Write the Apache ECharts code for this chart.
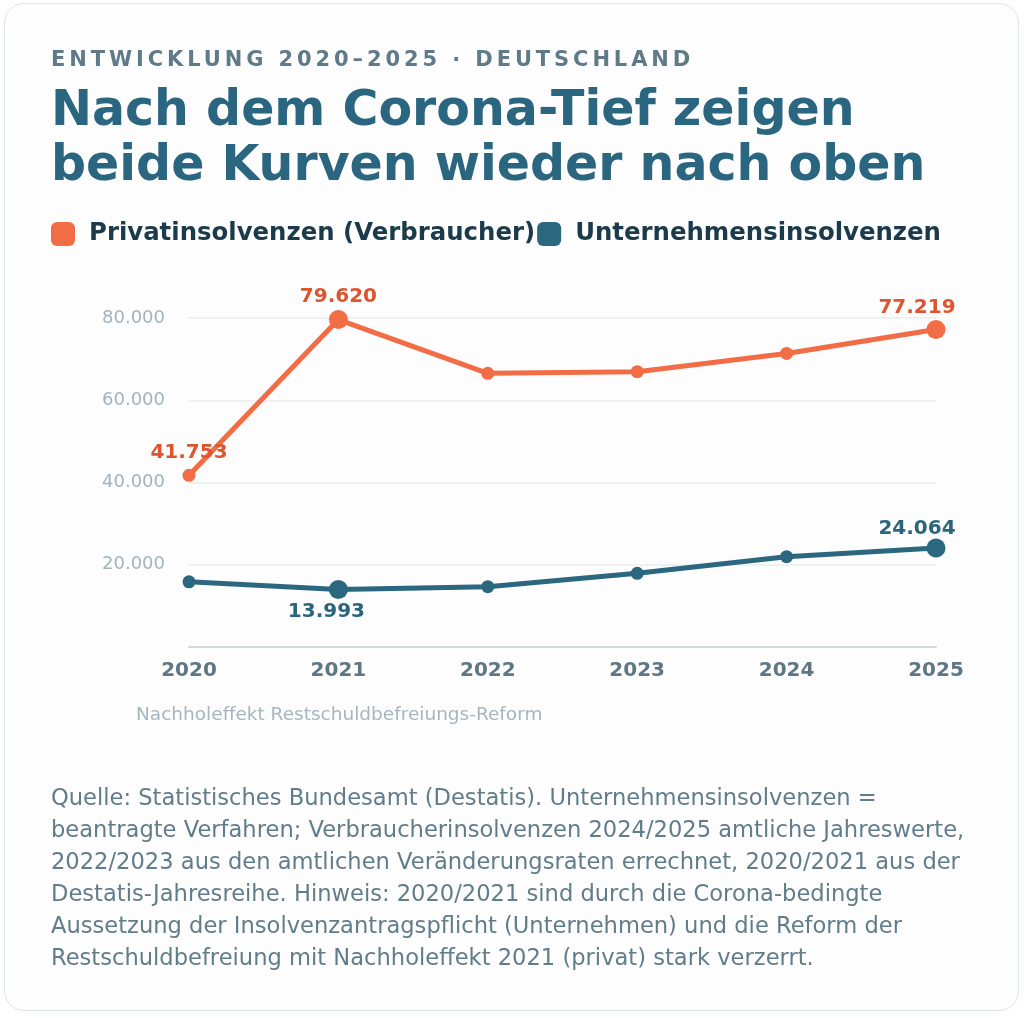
<!DOCTYPE html>
<html lang="de">
<head>
<meta charset="utf-8">
<title>Insolvenzen Deutschland 2020–2025</title>
<script src="https://cdn.jsdelivr.net/npm/echarts@6/dist/echarts.min.js"></script>
<style>
  html, body { margin: 0; padding: 0; background: #ffffff; }
  body { width: 1024px; height: 1018px; position: relative; overflow: hidden; font-family: "DejaVu Sans", sans-serif; }
  #card { position: absolute; left: 4px; top: 3px; width: 1013px; height: 1006px; border: 1.5px solid #dfe5e8; border-radius: 20px; background: #fdfdfd; }
  #chart { position: absolute; left: 0; top: 0; width: 1024px; height: 1018px; }
  #kicker { position: absolute; left: 51px; top: 49px; font: bold 21px/21px "DejaVu Sans", sans-serif; letter-spacing: 3.9px; color: #5f7a88; white-space: nowrap; z-index: 2; }
</style>
</head>
<body>
<div id="card"></div>
<div id="chart"></div>
<div id="kicker">ENTWICKLUNG 2020–2025 · DEUTSCHLAND</div>
<script>
// ---- Data ----
const years = ['2020', '2021', '2022', '2023', '2024', '2025'];
const privatName = 'Privatinsolvenzen (Verbraucher)';
const unternehmenName = 'Unternehmensinsolvenzen';
const privat = [41753, 79620, 66550, 66940, 71380, 77219];
const unternehmen = [15840, 13993, 14660, 17920, 21960, 24064];
const titleText = 'Nach dem Corona-Tief zeigen\nbeide Kurven wieder nach oben';
const noteText = 'Nachholeffekt Restschuldbefreiungs-Reform';
const sourceLines = [
  'Quelle: Statistisches Bundesamt (Destatis). Unternehmensinsolvenzen =',
  'beantragte Verfahren; Verbraucherinsolvenzen 2024/2025 amtliche Jahreswerte,',
  '2022/2023 aus den amtlichen Veränderungsraten errechnet, 2020/2021 aus der',
  'Destatis-Jahresreihe. Hinweis: 2020/2021 sind durch die Corona-bedingte',
  'Aussetzung der Insolvenzantragspflicht (Unternehmen) und die Reform der',
  'Restschuldbefreiung mit Nachholeffekt 2021 (privat) stark verzerrt.'
];

// ---- Styling ----
const FONT = '"DejaVu Sans", sans-serif';
const ORANGE = '#f26c45', ORANGE_LABEL = '#dd5530';
const BLUE = '#2c6780', BLUE_LABEL = '#2a657d';

function fmt(v) {
  return String(Math.round(v)).replace(/\B(?=(\d{3})+(?!\d))/g, '.');
}

// which points are emphasised (big marker) and which get a value label
const bigIdx = [1, 5];
const privatLabels = { 0: { position: 'top', distance: 6 }, 1: { position: 'top', distance: 3 }, 5: { position: 'top', distance: 2, offset: [-19, 0] } };
const untLabels = { 1: { position: 'bottom', distance: 3, offset: [-12, 0] }, 5: { position: 'top', distance: 0, offset: [-19, 0] } };

function buildData(values, labels, color) {
  return values.map((v, i) => {
    const item = { value: v, symbolSize: bigIdx.includes(i) ? 19 : 13 };
    if (labels[i]) {
      item.label = Object.assign({
        show: true,
        color: color,
        fontSize: 20,
        fontWeight: 'bold',
        fontFamily: FONT,
        formatter: p => fmt(p.value)
      }, labels[i]);
    }
    return item;
  });
}

const chart = echarts.init(document.getElementById('chart'), null, { renderer: 'canvas' });

const footerTop = 783;
chart.setOption({
  backgroundColor: 'transparent',
  animation: false,
  title: {
    text: titleText,
    left: 51,
    top: 85,
    padding: 0,
    textStyle: { fontFamily: FONT, fontSize: 49, fontWeight: 'bold', color: '#2b6680', lineHeight: 55 }
  },
  legend: {
    left: 51,
    top: 222,
    padding: 0,
    itemWidth: 24,
    itemHeight: 24,
    itemGap: 2,
    icon: 'roundRect',
    selectedMode: false,
    textStyle: { fontFamily: FONT, fontSize: 24.4, fontWeight: 'bold', color: '#1b3a4a', padding: [0, 0, 0, 9] },
    data: [privatName, unternehmenName]
  },
  grid: { left: 189, right: 88, top: 318, bottom: 371 },
  xAxis: {
    type: 'category',
    data: years,
    boundaryGap: false,
    axisLine: { lineStyle: { color: '#cfd9dd', width: 2 } },
    axisTick: { show: false },
    axisLabel: { fontFamily: FONT, fontSize: 20, fontWeight: 'bold', color: '#5f7784', margin: 14 },
    splitLine: { show: false }
  },
  yAxis: {
    type: 'value',
    min: 0,
    max: 80000,
    interval: 20000,
    axisLine: { show: false },
    axisTick: { show: false },
    axisLabel: { fontFamily: FONT, fontSize: 18, color: '#a3b3bc', margin: 24, showMinLabel: false, formatter: v => fmt(v) },
    splitLine: { lineStyle: { color: '#edf1f2', width: 2 } }
  },
  series: [
    {
      name: privatName,
      type: 'line',
      data: buildData(privat, privatLabels, ORANGE_LABEL),
      symbol: 'circle',
      color: ORANGE,
      lineStyle: { color: ORANGE, width: 5 },
      itemStyle: { color: ORANGE },
      z: 3
    },
    {
      name: unternehmenName,
      type: 'line',
      data: buildData(unternehmen, untLabels, BLUE_LABEL),
      symbol: 'circle',
      color: BLUE,
      lineStyle: { color: BLUE, width: 5 },
      itemStyle: { color: BLUE },
      z: 3
    }
  ],
  graphic: [
    {
      type: 'text',
      left: 136,
      top: 706,
      style: { text: noteText, fontFamily: FONT, fontSize: 18.5, fill: '#a7b6be' }
    },
    {
      type: 'text',
      left: 51,
      top: footerTop,
      style: { text: sourceLines.join('\n'), fontFamily: FONT, fontSize: 22.6, lineHeight: 32, fill: '#617d8a' }
    }
  ]
});
</script>
</body>
</html>
